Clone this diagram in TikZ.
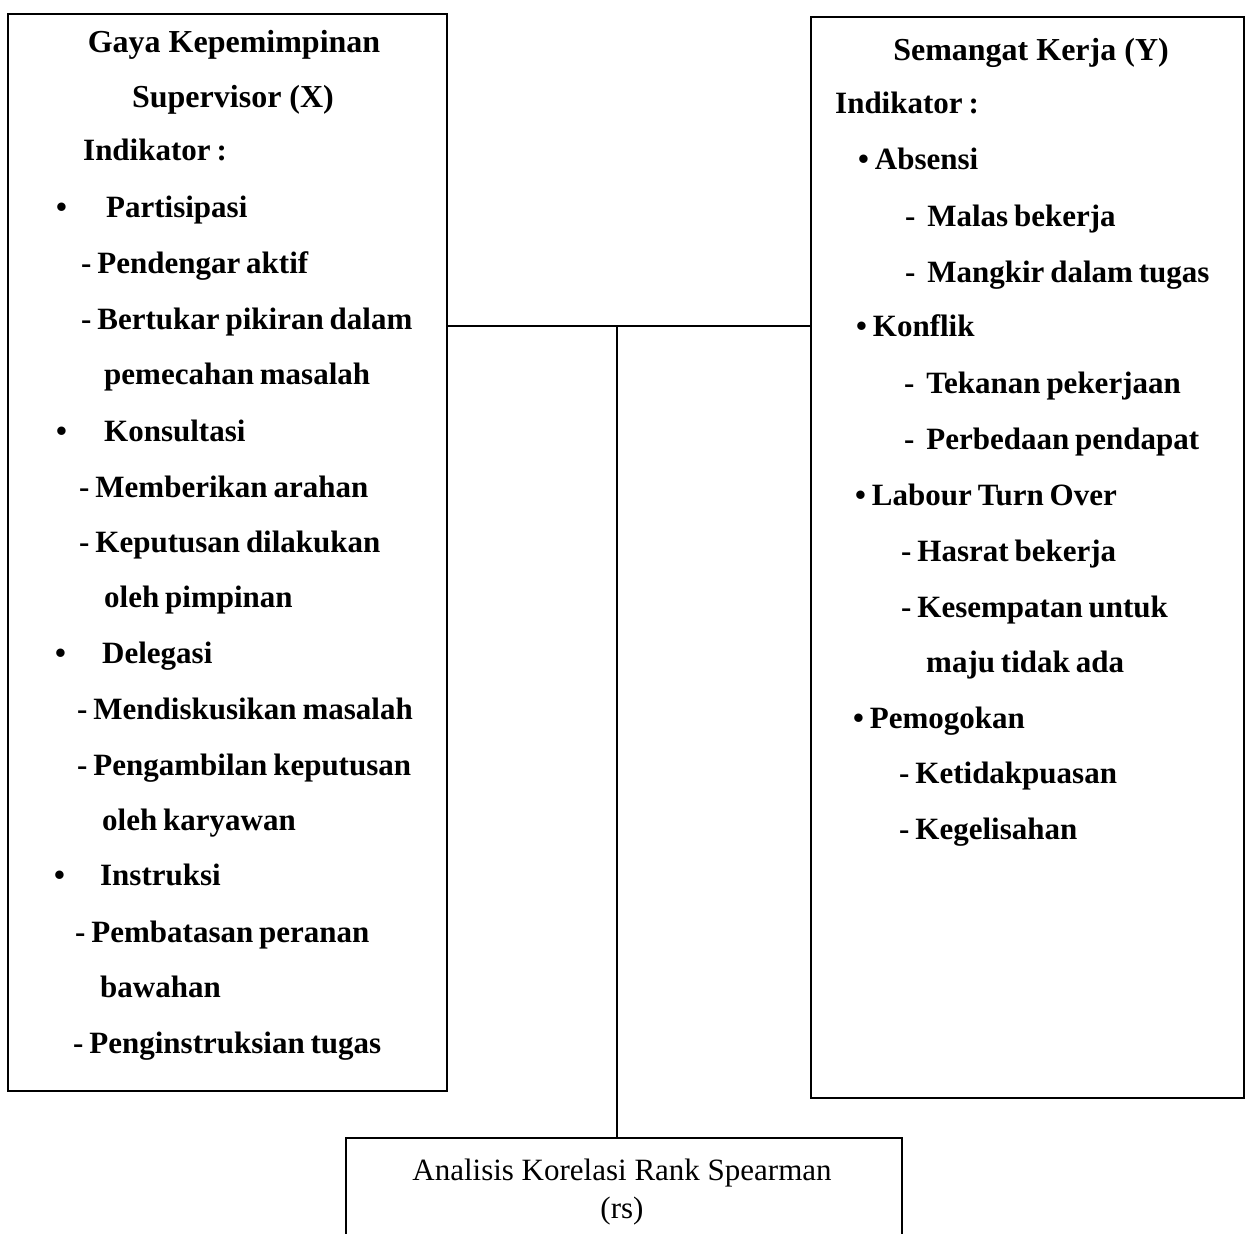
\documentclass[tikz,border=0pt]{standalone}
\usepackage{fontspec}
\setmainfont{Liberation Serif}
\newcommand{\bodyfnt}{\fontsize{31}{36}\selectfont\bfseries\spaceskip=0.19em plus 0.1em\relax}
\begin{document}
\begin{tikzpicture}[x=1pt,y=-1pt,
  boxstyle/.style={draw,line width=2pt,inner sep=0pt,anchor=north west},
  txt/.style={anchor=base west,inner sep=0pt,font=\bodyfnt},
  ctxt/.style={anchor=base,inner sep=0pt,font=\fontsize{32}{36}\selectfont\bfseries},
  plain/.style={anchor=base,inner sep=0pt,font=\fontsize{31}{36}\selectfont},
  conn/.style={line width=2pt}]
\useasboundingbox (0,0) rectangle (1249,1233);
% boxes
\node[boxstyle,minimum width=439pt,minimum height=1077pt] (L) at (7,13) {};
\node[boxstyle,minimum width=433pt,minimum height=1081pt] (R) at (810,16) {};
\node[boxstyle,minimum width=556pt,minimum height=130pt] (B) at (345,1137) {};
% left text
\node[ctxt] (l1) at (234,53) {Gaya Kepemimpinan};
\node[ctxt] (l2) at (233,108) {Supervisor (X)};
\node[txt] (l3) at (83,161) {Indikator :};
\node[txt] (l4) at (56,218) {\makebox[50pt][l]{\textbullet}Partisipasi};
\node[txt] (l5) at (81,273) {- Pendengar aktif};
\node[txt] (l6) at (81,329) {- Bertukar pikiran dalam};
\node[txt] (l7) at (104,384) {pemecahan masalah};
\node[txt] (l8) at (56,441) {\makebox[48pt][l]{\textbullet}Konsultasi};
\node[txt] (l9) at (79,497) {- Memberikan arahan};
\node[txt] (l10) at (79,552) {- Keputusan dilakukan};
\node[txt] (l11) at (104,607) {oleh pimpinan};
\node[txt] (l12) at (55,663) {\makebox[47pt][l]{\textbullet}Delegasi};
\node[txt] (l13) at (77,719) {- Mendiskusikan masalah};
\node[txt] (l14) at (77,775) {- Pengambilan keputusan};
\node[txt] (l15) at (102,830) {oleh karyawan};
\node[txt] (l16) at (54,885) {\makebox[46pt][l]{\textbullet}Instruksi};
\node[txt] (l17) at (75,942) {- Pembatasan peranan};
\node[txt] (l18) at (100,997) {bawahan};
\node[txt] (l19) at (73,1053) {- Penginstruksian tugas};
% right text
\node[ctxt] (r1) at (1031,61) {Semangat Kerja (Y)};
\node[txt] (r2) at (835,114) {Indikator :};
\node[txt] (r3) at (858,170) {\textbullet\ Absensi};
\node[txt] (r4) at (905,226) {-\ \ Malas bekerja};
\node[txt] (r5) at (905,282) {-\ \ Mangkir dalam tugas};
\node[txt] (r6) at (856,336) {\textbullet\ Konflik};
\node[txt] (r7) at (904,393) {-\ \ Tekanan pekerjaan};
\node[txt] (r8) at (904,449) {-\ \ Perbedaan pendapat};
\node[txt] (r9) at (855,505) {\textbullet\ Labour Turn Over};
\node[txt] (r10) at (901,561) {- Hasrat bekerja};
\node[txt] (r11) at (901,617) {- Kesempatan untuk};
\node[txt] (r12) at (926,672) {maju tidak ada};
\node[txt] (r13) at (853,728) {\textbullet\ Pemogokan};
\node[txt] (r14) at (899,783) {- Ketidakpuasan};
\node[txt] (r15) at (899,839) {- Kegelisahan};
% bottom text
\node[plain] (b1) at (622,1180) {Analisis Korelasi Rank Spearman};
\node[plain] (b2) at (622,1218) {(rs)};
% connectors
\coordinate (j) at (617,326);
\draw[conn] (L.east |- j) -- (R.west |- j);
\draw[conn] (j) -- (j |- B.north);
\end{tikzpicture}
\end{document}
